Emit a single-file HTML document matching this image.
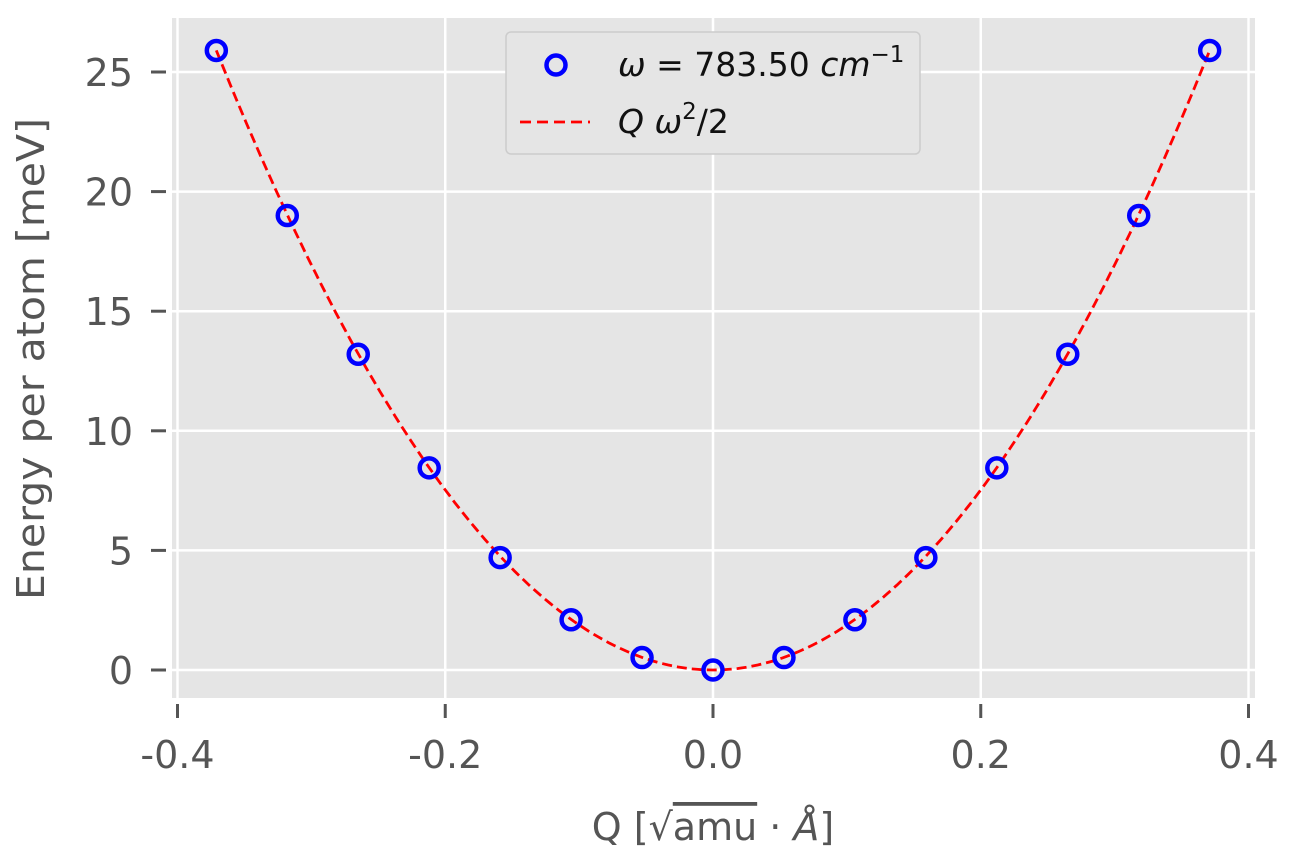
<!DOCTYPE html>
<html><head><meta charset="utf-8"><style>
body{margin:0;background:#fff;}
svg{display:block;font-family:"DejaVu Sans","Liberation Sans",sans-serif;}
</style></head><body>
<svg id="chart" width="1296" height="864" viewBox="0 0 1296 864">
<rect x="172" y="18" width="1083" height="680" fill="#e5e5e5"/>
<g id="grid"></g>
<g id="ticks"></g>
<path id="fit" fill="none" stroke="#ff0000" stroke-width="2.8" stroke-dasharray="10,5"/>
<g id="pts"></g>
<text x="713" y="840" text-anchor="middle" font-size="38" fill="#555">Q [√<tspan text-decoration="overline">amu</tspan> · <tspan font-style="italic">Å</tspan>]</text>
<text transform="translate(44,359) rotate(-90)" text-anchor="middle" font-size="38" fill="#555" textLength="482" lengthAdjust="spacingAndGlyphs">Energy per atom [meV]</text>
<g>
<rect x="506" y="32" width="414" height="122" rx="5" fill="#e5e5e5" stroke="#ccc" stroke-width="1.5"/>
<circle cx="556" cy="65" r="9.5" fill="none" stroke="#0000ff" stroke-width="4.5"/>
<text x="618" y="76" font-size="33" fill="#111" font-style="italic">ω<tspan font-style="normal"> = 783.50 </tspan>cm<tspan font-size="23" dy="-14" font-style="normal">−1</tspan></text>
<line x1="520" y1="122" x2="590" y2="122" stroke="#ff0000" stroke-width="2.8" stroke-dasharray="11,6"/>
<text x="618" y="133" font-size="33" fill="#111" font-style="italic">Q ω<tspan font-size="23" dy="-14" font-style="normal">2</tspan><tspan dy="14" font-style="normal">/2</tspan></text>
</g>
</svg>
<script>
const qValues=[-0.371,-0.318,-0.265,-0.212,-0.159,-0.106,-0.053,0,0.053,0.106,0.159,0.212,0.265,0.318,0.371];
const energyValues=[25.9,19.0,13.2,8.45,4.7,2.1,0.52,0,0.52,2.1,4.7,8.45,13.2,19.0,25.9];
const fitCoeff=[188.2];
const xTicks=[-0.4,-0.2,0.0,0.2,0.4];
const xTickLabels=["-0.4","-0.2","0.0","0.2","0.4"];
const yTicks=[0,5,10,15,20,25];
const yTickLabels=["0","5","10","15","20","25"];
const NS="http://www.w3.org/2000/svg";
const xs=v=>713+v*1338.75;
const ys=v=>670-v*23.92;
function mk(t,a,p){const e=document.createElementNS(NS,t);for(const k in a)e.setAttribute(k,a[k]);p.appendChild(e);return e;}
const grid=document.getElementById('grid'),ticks=document.getElementById('ticks'),pts=document.getElementById('pts');
xTicks.forEach((v,i)=>{
 const g=mk('line',{x1:xs(v),x2:xs(v),y1:18,y2:698,stroke:'#fff','stroke-width':2.5},grid);
 
 
 mk('line',{x1:xs(v),x2:xs(v),y1:704,y2:718,stroke:'#555','stroke-width':3},ticks);
 const t=mk('text',{x:xs(v),y:768,'text-anchor':'middle','font-size':38,fill:'#555'},ticks);
 t.textContent=xTickLabels[i];
 
 
});
yTicks.forEach((v,i)=>{
 const g=mk('line',{x1:172,x2:1255,y1:ys(v),y2:ys(v),stroke:'#fff','stroke-width':2.5},grid);
 
 
 mk('line',{x1:151,x2:166,y1:ys(v),y2:ys(v),stroke:'#555','stroke-width':3},ticks);
 const t=mk('text',{x:133,y:ys(v)+14,'text-anchor':'end','font-size':38,fill:'#555'},ticks);
 t.textContent=yTickLabels[i];
 
 
});
let d='';const q0=qValues[0],q1=qValues[qValues.length-1];
for(let i=0;i<=200;i++){const q=q0+(q1-q0)*i/200;d+=(i?'L':'M')+xs(q).toFixed(1)+','+ys(fitCoeff[0]*q*q).toFixed(1);}
document.getElementById('fit').setAttribute('d',d);
qValues.forEach((q,i)=>{
 const c=mk('circle',{cx:xs(q),cy:ys(energyValues[i]),r:9.5,fill:'none',stroke:'#0000ff','stroke-width':4.5},pts);
 
 
});
</script>
</body></html>
